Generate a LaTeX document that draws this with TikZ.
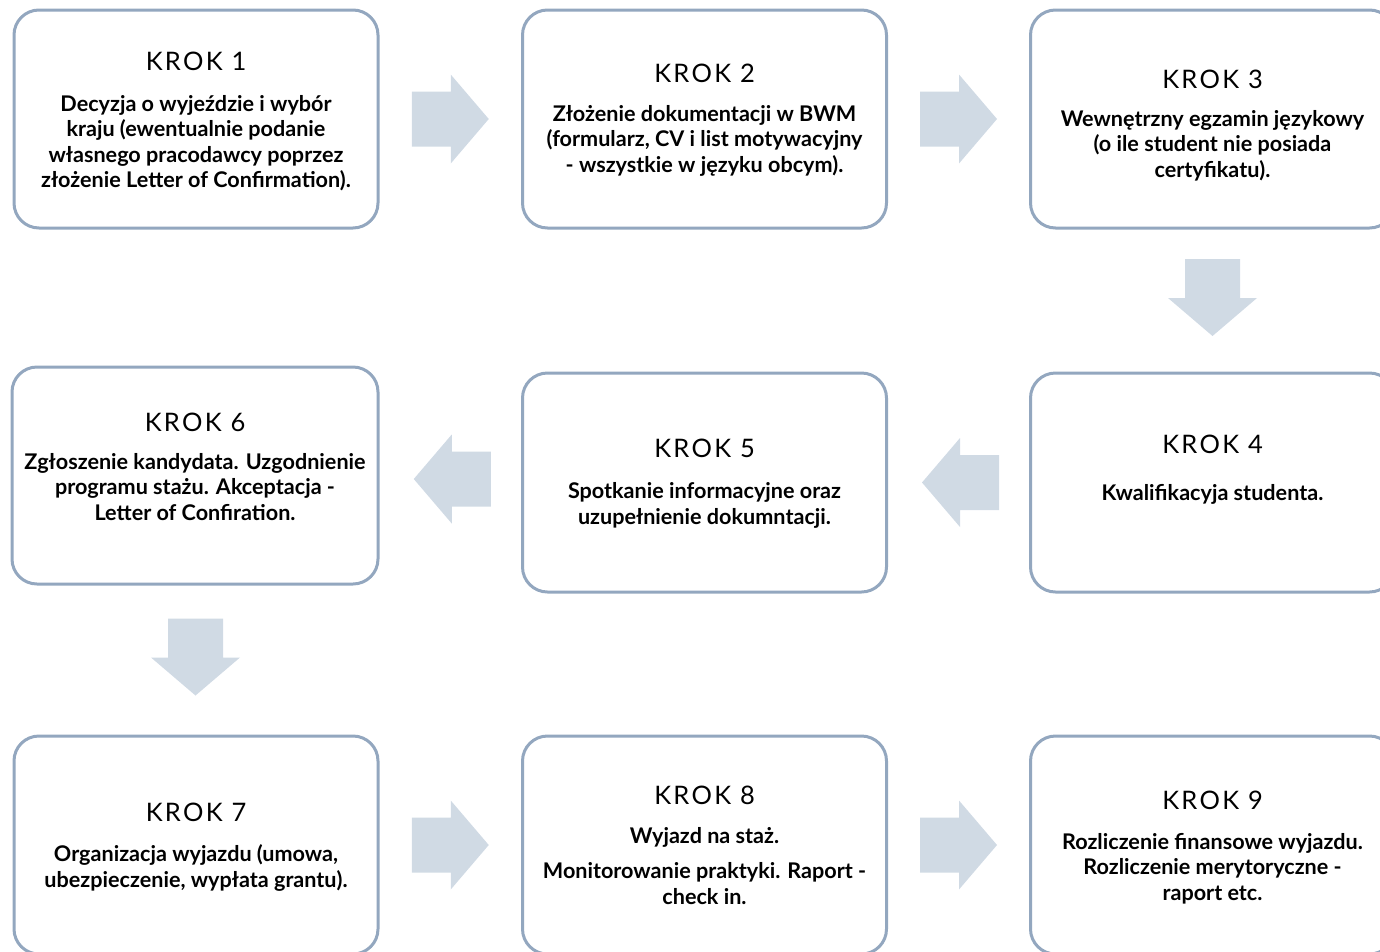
\documentclass[tikz,border=0pt]{standalone}
\usepackage{fontspec}
\setmainfont{Lato}
\usetikzlibrary{calc}
\definecolor{boxborder}{HTML}{93A7BF}
\definecolor{arrowfill}{HTML}{D0DAE4}
\tikzset{
  stepbox/.style={draw=boxborder, line width=3pt, fill=white, rounded corners=25pt,
    minimum width=364pt, minimum height=218pt, inner sep=0pt},
  titletext/.style={anchor=base, inner sep=0pt, font=\fontsize{25.5}{30}\selectfont\addfontfeatures{LetterSpace=9}},
  bodytext/.style={anchor=base, inner sep=0pt, align=center, font=\fontsize{21.6}{25.5}\selectfont\bfseries},
  blockarrow/.pic={\fill[arrowfill] (-38.5,-27.5) -- (0.5,-27.5) -- (0.5,-44.5) -- (38.5,0) -- (0.5,44.5) -- (0.5,27.5) -- (-38.5,27.5) -- cycle;}
}
\begin{document}
\begin{tikzpicture}[x=1pt, y=-1pt]
\useasboundingbox (0,0) rectangle (1380,951);
% boxes
\node[stepbox] (b1) at (196,119) {};
\node[stepbox] (b2) at (704.5,119) {};
\node[stepbox] (b3) at (1212.5,119) {};
\node[stepbox, minimum width=366pt, minimum height=217pt] (b6) at (195,475.5) {};
\node[stepbox, minimum height=219pt] (b5) at (704.5,482.5) {};
\node[stepbox, minimum height=219pt] (b4) at (1212.5,482.5) {};
\node[stepbox] (b7) at (196,845) {};
\node[stepbox] (b8) at (704.5,845) {};
\node[stepbox] (b9) at (1212.5,845) {};
% arrows
\pic at ($(b1.east)!0.5!(b2.west)$) {blockarrow};
\pic at ($(b2.east)!0.5!(b3.west)$) {blockarrow};
\pic[rotate=-90] at ($(b3.south)!0.5!(b4.north)+(0,-3)$) {blockarrow};
\pic[rotate=180] at ($(b5.east)!0.5!(b4.west)+(2,0)$) {blockarrow};
\pic[rotate=180] at ($(b6.east)!0.5!(b5.west)+(2,0)$) {blockarrow};
\pic[rotate=-90] at ($(b6.south)!0.5!(b7.north)+(0,-3)$) {blockarrow};
\pic at ($(b7.east)!0.5!(b8.west)$) {blockarrow};
\pic at ($(b8.east)!0.5!(b9.west)$) {blockarrow};
% texts (anchor = baseline of last line)
\node[titletext] (t1) at (196,70) {KROK 1};
\node[bodytext] (d1) at (196,187.5) {Decyzja o wyjeździe i wybór\\kraju (ewentualnie podanie\\własnego pracodawcy poprzez\\złożenie Letter of Confirmation).};
\node[titletext] (t2) at (704.5,82) {KROK 2};
\node[bodytext] (d2) at (704.5,172) {Złożenie dokumentacji w BWM\\(formularz, CV i list motywacyjny\\- wszystkie w języku obcym).};
\node[titletext] (t3) at (1212.5,88) {KROK 3};
\node[bodytext] (d3) at (1212.5,177) {Wewnętrzny egzamin językowy\\(o ile student nie posiada\\certyfikatu).};
\node[titletext] (t4) at (1212.5,453) {KROK 4};
\node[bodytext] (d4) at (1212.5,500) {Kwalifikacyja studenta.};
\node[titletext] (t5) at (704.5,457) {KROK 5};
\node[bodytext] (d5) at (704.5,524) {Spotkanie informacyjne oraz\\uzupełnienie dokumntacji.};
\node[titletext] (t6) at (195,431) {KROK 6};
\node[bodytext] (d6) at (195,520) {Zgłoszenie kandydata. Uzgodnienie\\programu stażu. Akceptacja -\\Letter of Confiration.};
\node[titletext] (t7) at (196,821) {KROK 7};
\node[bodytext] (d7) at (196,887) {Organizacja wyjazdu (umowa,\\ubezpieczenie, wypłata grantu).};
\node[titletext] (t8) at (704.5,804) {KROK 8};
\node[bodytext] (d8) at (704.5,904) {Wyjazd na staż.\\[9.5pt]Monitorowanie praktyki. Raport -\\check in.};
\node[titletext] (t9) at (1212.5,809) {KROK 9};
\node[bodytext] (d9) at (1212.5,900) {Rozliczenie finansowe wyjazdu.\\Rozliczenie merytoryczne -\\raport etc.};
\end{tikzpicture}
\end{document}
